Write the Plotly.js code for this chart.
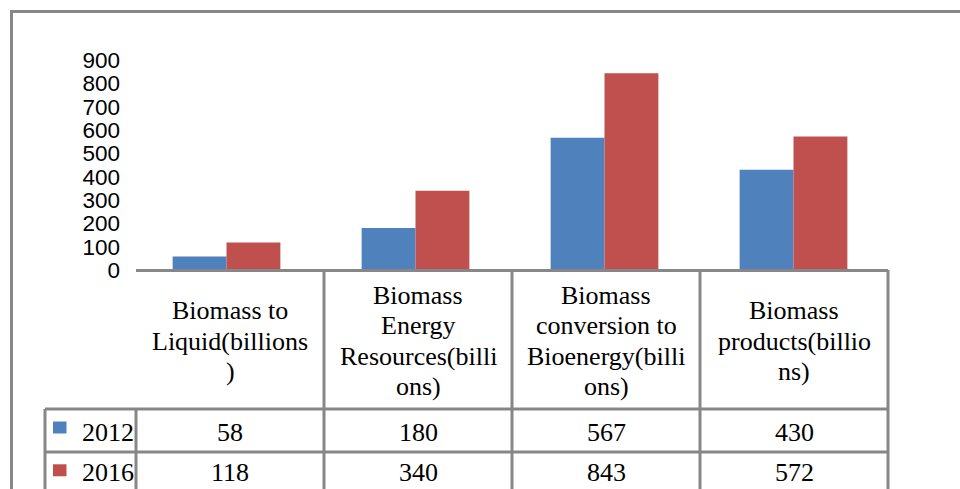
<!DOCTYPE html>
<html>
<head>
<meta charset="utf-8">
<script src="https://cdn.plot.ly/plotly-3.0.1.min.js"></script>
<style>html,body{margin:0;padding:0;background:#fff;}#chart{width:960px;height:489px;}</style>
</head>
<body>
<div id="chart"></div>
<script>
// ---- data ----
const categories = [
  "Biomass to<br>Liquid(billions<br>)",
  "Biomass<br>Energy<br>Resources(billi<br>ons)",
  "Biomass<br>conversion to<br>Bioenergy(billi<br>ons)",
  "Biomass<br>products(billio<br>ns)"
];
const seriesNames = ["2012", "2016"];
const values2012 = [58, 180, 567, 430];
const values2016 = [118, 340, 843, 572];
const yTickValues = [0, 100, 200, 300, 400, 500, 600, 700, 800, 900];

// ---- styles / geometry ----
const colors = ["#4F81BD", "#C0504D"];
const gridColor = "#878787";
const W = 960, H = 489;
const L = 132, R = 888, T = 60, B = 270;          // plot area (bars)
const TL = 136, TR = 888;                          // data table columns
const fx = px => (px - L) / (R - L);
const fy = py => (B - py) / (B - T);
const serif = "Liberation Serif, Times New Roman, serif";
const sans = "Liberation Sans, Arial, sans-serif";
const n = categories.length;
const xIdx = categories.map((c, i) => i);
const cellW = (TR - TL) / n;
const cellCenter = i => TL + (i + 0.5) * cellW;

const traces = [values2012, values2016].map((vals, s) => ({
  type: "bar",
  x: xIdx,
  y: vals,
  name: seriesNames[s],
  marker: {color: colors[s], line: {width: 0}},
  hoverinfo: "skip"
}));

const shapes = [];
const ln = (x0, y0, x1, y1) => shapes.push({
  type: "line", xref: "paper", yref: "paper",
  x0: fx(x0), y0: fy(y0), x1: fx(x1), y1: fy(y1),
  line: {color: gridColor, width: 3}
});
// outer frame
shapes.push({type: "rect", xref: "paper", yref: "paper",
  x0: fx(11.5), y0: fy(11.5), x1: fx(990), y1: fy(520),
  line: {color: gridColor, width: 3}, fillcolor: "rgba(0,0,0,0)"});
// data table lines
const rowTop = 409, rowH = 43;
ln(TL, B + 0.5, TR, B + 0.5);
ln(45, rowTop, TR, rowTop);
ln(45, rowTop + rowH, TR, rowTop + rowH);
ln(45, rowTop, 45, 520);
ln(TL, rowTop, TL, 520);
for (let k = 0; k < n; k++) {
  const bx = TL + (k + 1) * cellW;
  ln(bx, B, bx, 520);
}

const annotations = [];
// category header text, one annotation per line
const lineGap = 30.5, headerMid = 340;
categories.forEach((c, i) => {
  const lines = c.split("<br>");
  lines.forEach((t, j) => {
    const cy = headerMid + (j - (lines.length - 1) / 2) * lineGap;
    annotations.push({xref: "paper", yref: "paper", x: fx(cellCenter(i)), y: fy(cy + 1),
      text: t, showarrow: false, xanchor: "center", yanchor: "middle",
      font: {family: serif, size: 26, color: "#000"}});
  });
});
// value rows + legend keys
const rowTextY = [432, 472];
const keyY = [427.5, 470.3];
[values2012, values2016].forEach((vals, s) => {
  const cy = rowTextY[s];
  vals.forEach((v, i) => annotations.push({xref: "paper", yref: "paper", x: fx(cellCenter(i)), y: fy(cy),
    text: String(v), showarrow: false, xanchor: "center", yanchor: "middle",
    font: {family: serif, size: 26, color: "#000"}}));
  annotations.push({xref: "paper", yref: "paper", x: fx(80), y: fy(cy),
    text: seriesNames[s], showarrow: false, xanchor: "left", yanchor: "middle",
    font: {family: serif, size: 26, color: "#000"}});
  shapes.push({type: "rect", xref: "paper", yref: "paper",
    x0: fx(53), x1: fx(66.5), y0: fy(keyY[s] - 6), y1: fy(keyY[s] + 6),
    fillcolor: colors[s], line: {width: 0}});
});

const layout = {
  width: W, height: H,
  margin: {l: L, r: W - R, t: T, b: H - B, pad: 0},
  paper_bgcolor: "#fff", plot_bgcolor: "#fff",
  showlegend: false,
  barmode: "group", bargap: 0.43, bargroupgap: 0,
  xaxis: {range: [-0.5, n - 0.5], showticklabels: false, showgrid: false,
    zeroline: false, showline: false, ticks: "", fixedrange: true},
  yaxis: {range: [0, 900], tickvals: yTickValues, ticktext: yTickValues.map(String),
    showgrid: false, zeroline: false, showline: false, ticks: "",
    ticklabelstandoff: 11,
    tickfont: {family: sans, size: 22.5, color: "#000"}, fixedrange: true},
  shapes: shapes,
  annotations: annotations
};

Plotly.newPlot("chart", traces, layout, {displayModeBar: false, staticPlot: true});
</script>
</body>
</html>
